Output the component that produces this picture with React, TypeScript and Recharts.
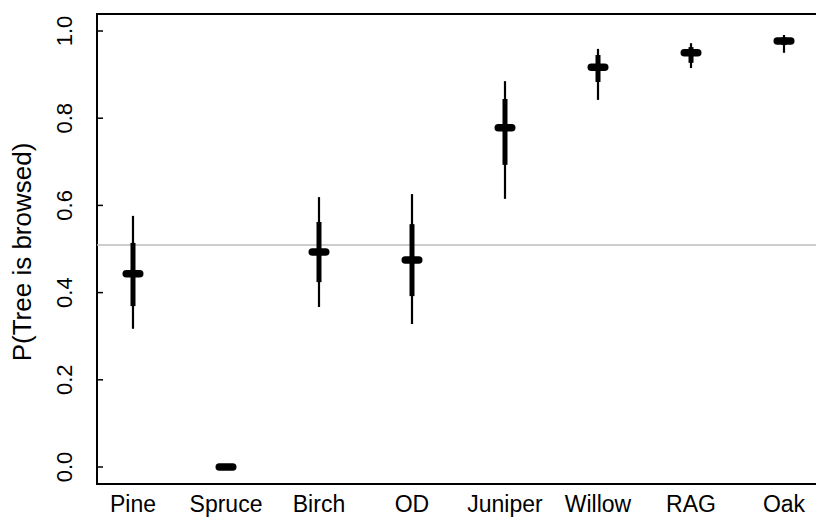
import React from 'react';
import {
  ScatterChart,
  Scatter,
  XAxis,
  YAxis,
  ErrorBar,
  ReferenceLine,
  ReferenceArea,
} from 'recharts';

const categories = ['Pine', 'Spruce', 'Birch', 'OD', 'Juniper', 'Willow', 'RAG', 'Oak'];
const medians = [0.443, 0.0, 0.493, 0.475, 0.778, 0.917, 0.95, 0.977];
const lo95 = [0.317, 0.0, 0.367, 0.328, 0.615, 0.842, 0.915, 0.95];
const hi95 = [0.576, 0.0, 0.619, 0.626, 0.885, 0.959, 0.972, 0.991];
const lo50 = [0.369, 0.0, 0.424, 0.392, 0.693, 0.883, 0.927, 0.968];
const hi50 = [0.514, 0.0, 0.562, 0.557, 0.844, 0.945, 0.963, 0.985];
const yTicks = [0, 0.2, 0.4, 0.6, 0.8, 1.0];
const overallMean = 0.509;

const X_DOMAIN: [number, number] = [0.613, 8.387];
const Y_DOMAIN: [number, number] = [-0.039, 1.039];
const FONT = '"Liberation Sans", Arial, Helvetica, sans-serif';

const rows = categories.map((name, i) => ({
  x: i + 1,
  name,
  median: medians[i],
  err95: [medians[i] - lo95[i], hi95[i] - medians[i]],
  err50: [medians[i] - lo50[i], hi50[i] - medians[i]],
}));

const YTick = (props: any) => {
  const { x, y, payload } = props;
  return (
    <g>
      <line x1={x} x2={x + 6} y1={y} y2={y} stroke="#000" strokeWidth={1.5} />
      <text
        transform={`translate(${x - 25}, ${y}) rotate(-90)`}
        textAnchor="middle"
        fontSize={22}
        fontFamily={FONT}
        fill="#000"
      >
        {payload.value.toFixed(1)}
      </text>
    </g>
  );
};

const XTick = (props: any) => {
  const { x, y, payload } = props;
  return (
    <text x={x} y={y + 28} textAnchor="middle" fontSize={23} fontFamily={FONT} fill="#000">
      {categories[payload.value - 1]}
    </text>
  );
};

const MedianDash = (props: any) => {
  const { cx, cy } = props;
  return <rect x={cx - 10.5} y={cy - 3.75} width={21} height={7.5} rx={3.75} fill="#000" />;
};

export default function App() {
  return (
    <div style={{ position: 'absolute', left: 0, top: 0, width: 816, height: 519, overflow: 'hidden', background: '#fff' }}>
      <ScatterChart width={840} height={519} margin={{ top: 14, right: 20, bottom: 0, left: 0 }}>
        <XAxis
          type="number"
          dataKey="x"
          domain={X_DOMAIN}
          allowDataOverflow
          ticks={[1, 2, 3, 4, 5, 6, 7, 8]}
          tick={<XTick />}
          tickLine={false}
          axisLine={false}
          tickSize={0}
          tickMargin={0}
          height={35}
          interval={0}
        />
        <YAxis
          type="number"
          dataKey="median"
          domain={Y_DOMAIN}
          allowDataOverflow
          ticks={yTicks}
          tick={<YTick />}
          tickLine={false}
          axisLine={false}
          tickSize={0}
          tickMargin={0}
          width={97}
          interval={0}
        />
        <ReferenceLine y={overallMean} stroke="#bdbdbd" strokeWidth={1.5} />
        <ReferenceArea
          x1={X_DOMAIN[0]}
          x2={X_DOMAIN[1]}
          y1={Y_DOMAIN[0]}
          y2={Y_DOMAIN[1]}
          fill="none"
          stroke="#000"
          strokeWidth={2}
        />
        <Scatter data={rows} shape={<MedianDash />} isAnimationActive={false}>
          <ErrorBar dataKey="err95" direction="y" width={0} stroke="#000" strokeWidth={2.2} isAnimationActive={false} />
          <ErrorBar dataKey="err50" direction="y" width={0} stroke="#000" strokeWidth={5} isAnimationActive={false} />
        </Scatter>
      </ScatterChart>
      <svg width={816} height={519} style={{ position: 'absolute', left: 0, top: 0, pointerEvents: 'none' }}>
        <text
          transform="translate(31, 252) rotate(-90)"
          textAnchor="middle"
          fontSize={26}
          fontFamily={FONT}
          fill="#000"
        >
          P(Tree is browsed)
        </text>
      </svg>
    </div>
  );
}
